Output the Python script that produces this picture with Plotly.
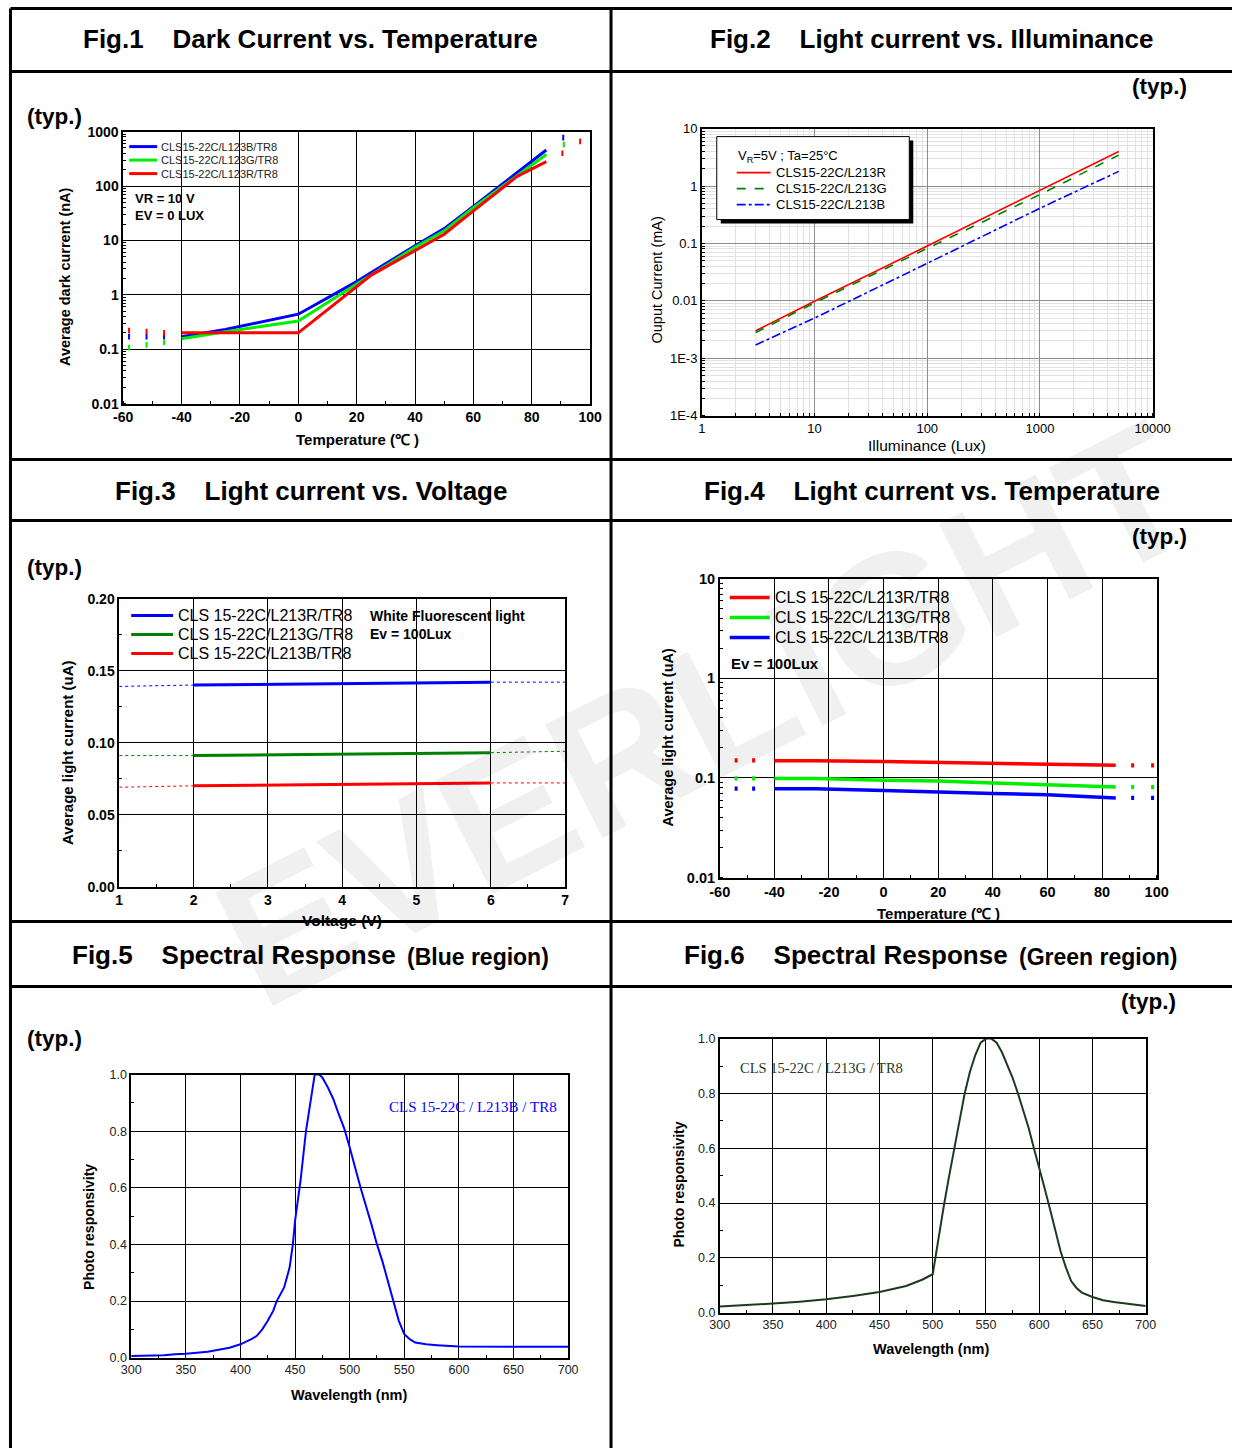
import plotly.graph_objects as go

W, H = 1250, 1456
# layout positions below are given in target-picture pixels; these helpers map them to paper coords
SX, OX, SY, OY = 0.98, 8.5, 0.989, 6.4
def tpx(x): return (x - OX) / SX
def tpy(y): return (y - OY) / SY
def fx(x): return tpx(x) / W
def fy(y): return 1 - tpy(y) / H
def fxc(x): return min(max(tpx(x), 0.5), W - 0.5) / W
def fyc(y): return 1 - min(max(tpy(y), 0.5), H - 0.5) / H

FONT = "Arial, Liberation Sans, sans-serif"
SERIF = "Times New Roman, Liberation Serif, serif"

# ---------------- DATA ----------------
# Fig.1 Dark current vs temperature (nA)
f1_blue_t = [-40, -25, 0, 20, 40, 50, 60, 85]
f1_blue = [0.17, 0.23, 0.44, 1.75, 8.0, 16.5, 42, 460]
f1_green_t = [-40, -25, 0, 20, 40, 50, 60, 85]
f1_green = [0.155, 0.21, 0.33, 1.55, 7.5, 15, 40, 380]
f1_red_t = [-40, 0, 25, 50, 60, 75, 85]
f1_red = [0.20, 0.20, 2.3, 13, 35, 150, 280]
f1_dot_t_left = [-58, -52, -46]
f1_dot_blue_left = [0.17, 0.17, 0.17]
f1_dot_green_left = [0.107, 0.12, 0.135]
f1_dot_red_left = [0.22, 0.21, 0.20]
f1_dot_blue_right_t = [90.8]
f1_dot_blue_right = [776]
f1_dot_green_right_t = [91]
f1_dot_green_right = [575]
f1_dot_red_right_t = [90.5, 96.6]
f1_dot_red_right = [400, 660]
f1_names = ["CLS15-22C/L123B/TR8", "CLS15-22C/L123G/TR8", "CLS15-22C/L123R/TR8"]
f1_xticks = [-60, -40, -20, 0, 20, 40, 60, 80, 100]
f1_xlabels = ["-60", "-40", "-20", "0", "20", "40", "60", "80", "100"]
f1_yticks = [0.01, 0.1, 1, 10, 100, 1000]
f1_ylabels = ["0.01", "0.1", "1", "10", "100", "1000"]

# Fig.2 Light current vs illuminance (mA)
f2_lux = [3, 10, 100, 1000, 5000]
f2_red = [0.003, 0.0098, 0.09, 0.84, 4.0]
f2_green = [0.0028, 0.0092, 0.082, 0.71, 3.45]
f2_blue = [0.0017, 0.005, 0.045, 0.41, 1.8]
f2_names = ["CLS15-22C/L213R", "CLS15-22C/L213G", "CLS15-22C/L213B"]
f2_xticks = [1, 10, 100, 1000, 10000]
f2_xlabels = ["1", "10", "100", "1000", "10000"]
f2_yticks = [1e-4, 1e-3, 0.01, 0.1, 1, 10]
f2_ylabels = ["1E-4", "1E-3", "0.01", "0.1", "1", "10"]

# Fig.3 Light current vs voltage (uA)
f3_v = [2, 4, 6]
f3_blue = [0.140, 0.141, 0.142]
f3_green = [0.091, 0.092, 0.093]
f3_red = [0.070, 0.071, 0.072]
f3_v_lo = [1, 2]
f3_v_hi = [6, 7]
f3_blue_lo = [0.139, 0.140]
f3_blue_hi = [0.142, 0.142]
f3_green_lo = [0.091, 0.091]
f3_green_hi = [0.093, 0.094]
f3_red_lo = [0.069, 0.070]
f3_red_hi = [0.072, 0.072]
f3_names = ["CLS 15-22C/L213R/TR8", "CLS 15-22C/L213G/TR8", "CLS 15-22C/L213B/TR8"]

# Fig.4 Light current vs temperature (uA)
f4_t = [-40, -25, 0, 20, 40, 60, 85]
f4_red = [0.149, 0.149, 0.146, 0.143, 0.141, 0.138, 0.134]
f4_green = [0.099, 0.099, 0.095, 0.093, 0.089, 0.086, 0.081]
f4_blue = [0.078, 0.078, 0.075, 0.072, 0.070, 0.068, 0.063]
f4_dot_t = [-54, -47.6, 91.2, 98.5]
f4_dot_red = [0.150, 0.150, 0.134, 0.134]
f4_dot_green = [0.099, 0.099, 0.081, 0.081]
f4_dot_blue = [0.078, 0.078, 0.063, 0.063]
f4_names = ["CLS 15-22C/L213R/TR8", "CLS 15-22C/L213G/TR8", "CLS 15-22C/L213B/TR8"]
f4_yticks = [0.01, 0.1, 1, 10]
f4_ylabels = ["0.01", "0.1", "1", "10"]

# Fig.5 Spectral response (blue)
f5_wl = [300, 330, 340, 350, 370, 380, 390, 400, 410, 415, 420, 425, 430, 433, 440, 445,
         448, 450, 455, 460, 465, 468, 472, 475, 480, 485, 490, 495, 500, 510, 520, 525,
         530, 535, 540, 545, 550, 555, 560, 570, 580, 590, 600, 650, 700]
f5_resp = [0.006, 0.008, 0.012, 0.014, 0.021, 0.027, 0.035, 0.047, 0.065, 0.077, 0.10, 0.13,
           0.165, 0.198, 0.248, 0.318, 0.40, 0.483, 0.625, 0.80, 0.93, 1.0, 1.0, 0.99, 0.955,
           0.914, 0.86, 0.81, 0.743, 0.60, 0.47, 0.40, 0.34, 0.27, 0.20, 0.13, 0.083, 0.065,
           0.053, 0.047, 0.044, 0.041, 0.039, 0.038, 0.038]

# Fig.6 Spectral response (green)
f6_wl = [300, 325, 350, 375, 400, 425, 450, 475, 490, 500, 502, 505, 510, 515, 520, 525, 530,
         535, 540, 545, 550, 555, 560, 565, 570, 575, 580, 585, 590, 595, 600, 605, 610, 615,
         620, 625, 630, 635, 640, 650, 660, 670, 680, 690, 700]
f6_resp = [0.022, 0.027, 0.033, 0.040, 0.049, 0.061, 0.075, 0.097, 0.12, 0.14, 0.19, 0.26,
           0.38, 0.49, 0.59, 0.70, 0.80, 0.88, 0.94, 0.985, 1.0, 1.0, 0.985, 0.95, 0.905,
           0.857, 0.80, 0.74, 0.675, 0.60, 0.53, 0.455, 0.38, 0.30, 0.225, 0.165, 0.115, 0.09,
           0.073, 0.057, 0.045, 0.039, 0.034, 0.029, 0.024]

# ---------------- FIGURE ----------------
fig = go.Figure()
BLUE, RED, LIME, DGREEN, SGREEN = "#0000ff", "#ff0000", "#00ee00", "#008000", "#1e3a1e"

# Fig.1
f1_series = [(f1_blue_t, f1_blue, BLUE, f1_names[0]),
             (f1_green_t, f1_green, LIME, f1_names[1]),
             (f1_red_t, f1_red, RED, f1_names[2])]
for t, v, c, n in f1_series:
    fig.add_trace(go.Scatter(x=t, y=v, mode="lines", name=n, line=dict(color=c, width=3),
                             xaxis="x", yaxis="y"))
for t, v, c in [(f1_dot_t_left, f1_dot_blue_left, BLUE), (f1_dot_t_left, f1_dot_green_left, LIME),
                (f1_dot_t_left, f1_dot_red_left, RED), (f1_dot_blue_right_t, f1_dot_blue_right, BLUE),
                (f1_dot_green_right_t, f1_dot_green_right, LIME), (f1_dot_red_right_t, f1_dot_red_right, RED)]:
    fig.add_trace(go.Scatter(x=t, y=v, mode="markers", showlegend=False,
                             marker=dict(symbol="line-ns", size=4, line=dict(color=c, width=2)),
                             xaxis="x", yaxis="y"))

# Fig.2
f2_series = [(f2_red, RED, "solid", f2_names[0]), (f2_green, DGREEN, "dash", f2_names[1]),
             (f2_blue, BLUE, "dashdot", f2_names[2])]
for v, c, d, n in f2_series:
    fig.add_trace(go.Scatter(x=f2_lux, y=v, mode="lines", name=n, line=dict(color=c, width=1.6, dash=d),
                             xaxis="x2", yaxis="y2"))

# Fig.3
f3_series = [(f3_blue, f3_blue_lo, f3_blue_hi, BLUE, f3_names[0]),
             (f3_green, f3_green_lo, f3_green_hi, DGREEN, f3_names[1]),
             (f3_red, f3_red_lo, f3_red_hi, RED, f3_names[2])]
for v, lo, hi, c, n in f3_series:
    fig.add_trace(go.Scatter(x=f3_v, y=v, mode="lines", name=n, line=dict(color=c, width=3),
                             xaxis="x3", yaxis="y3"))
    fig.add_trace(go.Scatter(x=f3_v_lo, y=lo, mode="lines", showlegend=False,
                             line=dict(color=c, width=1, dash="dot"), xaxis="x3", yaxis="y3"))
    fig.add_trace(go.Scatter(x=f3_v_hi, y=hi, mode="lines", showlegend=False,
                             line=dict(color=c, width=1, dash="dot"), xaxis="x3", yaxis="y3"))

# Fig.4
f4_series = [(f4_red, f4_dot_red, RED, f4_names[0]), (f4_green, f4_dot_green, LIME, f4_names[1]),
             (f4_blue, f4_dot_blue, BLUE, f4_names[2])]
for v, dv, c, n in f4_series:
    fig.add_trace(go.Scatter(x=f4_t, y=v, mode="lines", name=n, line=dict(color=c, width=3.5),
                             xaxis="x4", yaxis="y4"))
    fig.add_trace(go.Scatter(x=f4_dot_t, y=dv, mode="markers", showlegend=False,
                             marker=dict(symbol="line-ns", size=3, line=dict(color=c, width=3)),
                             xaxis="x4", yaxis="y4"))

# Fig.5 / Fig.6
fig.add_trace(go.Scatter(x=f5_wl, y=f5_resp, mode="lines", name="CLS 15-22C / L213B / TR8",
                         line=dict(color=BLUE, width=2), xaxis="x5", yaxis="y5"))
fig.add_trace(go.Scatter(x=f6_wl, y=f6_resp, mode="lines", name="CLS 15-22C / L213G / TR8",
                         line=dict(color=SGREEN, width=2), xaxis="x6", yaxis="y6"))

# ---------------- AXES ----------------
def ax(x0, x1, anchor, **kw):
    d = dict(domain=[fx(x0), fx(x1)], anchor=anchor, showline=True, mirror=True, linecolor="black",
             linewidth=1.5, ticks="", zeroline=False, showgrid=True, gridcolor="black", gridwidth=1)
    d.update(kw)
    return d

def ay(y0, y1, anchor, **kw):
    d = dict(domain=[fy(y1), fy(y0)], anchor=anchor, showline=True, mirror=True, linecolor="black",
             linewidth=1.5, ticks="", zeroline=False, showgrid=True, gridcolor="black", gridwidth=1)
    d.update(kw)
    return d

def bf(s): return dict(family=FONT, size=s, color="black", weight="bold")
def rf(s, c="black"): return dict(family=FONT, size=s, color=c)
minor_lin = lambda d: dict(ticks="inside", dtick=d, ticklen=3, tickcolor="black", showgrid=False)
minor_log = dict(ticks="inside", dtick="D1", ticklen=3, tickcolor="black", showgrid=False)
minor_log_grid = dict(dtick="D1", ticks="inside", ticklen=3, tickcolor="black", showgrid=True,
                      gridcolor="#e2e2e2")

fig.update_layout(
    xaxis=ax(122, 590, "y", range=[-60, 100], tickvals=f1_xticks, ticktext=f1_xlabels,
             tickfont=bf(14), minor=minor_lin(10)),
    yaxis=ay(130, 402, "x", type="log", range=[-2, 3], tickvals=f1_yticks, ticktext=f1_ylabels,
             tickfont=bf(14), minor=minor_log),
    xaxis2=ax(702, 1154, "y2", type="log", range=[0, 4], tickvals=f2_xticks, ticktext=f2_xlabels,
              tickfont=rf(13), gridcolor="#8c8c8c", minor=minor_log_grid),
    yaxis2=ay(127, 414, "x2", type="log", range=[-4, 1], tickvals=f2_yticks, ticktext=f2_ylabels,
              tickfont=rf(13), gridcolor="#8c8c8c", minor=minor_log_grid),
    xaxis3=ax(118, 565, "y3", range=[1, 7], dtick=1, tickfont=bf(14), minor=minor_lin(0.5)),
    yaxis3=ay(597, 885, "x3", range=[0, 0.2], dtick=0.05, tickformat=".2f", tickfont=bf(14),
              minor=minor_lin(0.025)),
    xaxis4=ax(720, 1158, "y4", range=[-60, 100], tickvals=f1_xticks, ticktext=f1_xlabels,
              tickfont=bf(14.5), minor=minor_lin(10)),
    yaxis4=ay(577, 876, "x4", type="log", range=[-2, 1], tickvals=f4_yticks, ticktext=f4_ylabels,
              tickfont=bf(14.5), minor=minor_log),
    xaxis5=ax(130, 568, "y5", range=[300, 700], dtick=50, tickfont=rf(12.5, "#222"), minor=minor_lin(25)),
    yaxis5=ay(1073, 1356, "x5", range=[0, 1.0], dtick=0.2, tickformat=".1f", tickfont=rf(12.5, "#222"),
              minor=minor_lin(0.1)),
    xaxis6=ax(720, 1147, "y6", range=[300, 700], dtick=50, tickfont=rf(12.5, "#222"), minor=minor_lin(25)),
    yaxis6=ay(1037, 1311, "x6", range=[0, 1.0], dtick=0.2, tickformat=".1f", tickfont=rf(12.5, "#222"),
              minor=minor_lin(0.1)),
)

# ---------------- TABLE LINES, LEGEND KEYS ----------------
shapes = []
def seg(x0, x1, y, color, width, dash="solid"):
    shapes.append(dict(type="line", xref="paper", yref="paper", x0=fx(x0), x1=fx(x1), y0=fy(y), y1=fy(y),
                       line=dict(color=color, width=width, dash=dash), layer="above"))

for yy in [4, 70, 458, 519, 920, 985]:
    shapes.append(dict(type="line", xref="paper", yref="paper", x0=fxc(6), x1=1, y0=fyc(yy), y1=fyc(yy),
                       line=dict(color="black", width=3)))
for xx in [7, 611]:
    shapes.append(dict(type="line", xref="paper", yref="paper", x0=fxc(xx), x1=fxc(xx), y0=fyc(3), y1=0,
                       line=dict(color="black", width=3)))
# Fig2 legend box with shadow
shapes.append(dict(type="rect", xref="paper", yref="paper", x0=fx(721), x1=fx(914), y0=fy(222), y1=fy(139),
                   fillcolor="black", line=dict(width=0), layer="above"))
shapes.append(dict(type="rect", xref="paper", yref="paper", x0=fx(717), x1=fx(910), y0=fy(218), y1=fy(135),
                   fillcolor="white", line=dict(color="black", width=1), layer="above"))

# ---------------- TEXT ----------------
NB = "\u00a0"
ann = []
def A(text, x, y, size, bold=True, family=FONT, color="black", xanchor="center", angle=0):
    ann.append(dict(text=text, x=fx(x), y=fy(y), xref="paper", yref="paper", showarrow=False,
                    xanchor=xanchor, yanchor="middle", textangle=angle,
                    font=dict(family=family, size=size, color=color, weight="bold" if bold else "normal")))

# legend keys (line samples + names)
for i, (t, v, c, n) in enumerate(f1_series):
    y = [145, 158.5, 172][i]
    seg(128, 156, y, c, 3)
    A(n, 158, y, 11, bold=False, color="#222", xanchor="left")
A("V<sub>R</sub>=5V ; Ta=25°C", 736, 155, 13, bold=False, xanchor="left")
for i, (v, c, d, n) in enumerate(f2_series):
    y = [171, 187, 203][i]
    seg(737, 771, y, c, 1.6, d)
    A(n, 774, y, 13, bold=False, xanchor="left")
for i, (v, lo, hi, c, n) in enumerate(f3_series):
    y = [614, 633, 652][i]
    seg(130, 172, y, c, 3)
    A(n, 175, y, 16, bold=False, xanchor="left")
for i, (v, dv, c, n) in enumerate(f4_series):
    y = [596, 616, 636][i]
    seg(730, 770, y, c, 3.5)
    A(n, 773, y, 16, bold=False, xanchor="left")

sp = NB * 4
A("Fig.1" + sp + "Dark Current vs. Temperature", 310, 37, 26)
A("Fig.2" + sp + "Light current vs. Illuminance", 933, 37, 26)
A("Fig.3" + sp + "Light current vs. Voltage", 310, 489, 26)
A("Fig.4" + sp + "Light current vs. Temperature", 933, 489, 26)
A("Fig.5" + sp + "Spectral Response", 397, 953, 26, xanchor="right")
A("(Blue region)", 404, 955, 23, xanchor="left")
A("Fig.6" + sp + "Spectral Response", 1011, 953, 26, xanchor="right")
A("(Green region)", 1018, 955, 23, xanchor="left")

for x, y, xa in [(24, 115, "left"), (1190, 85, "right"), (24, 566, "left"), (1190, 535, "right"),
                 (24, 1037, "left"), (1179, 1000, "right")]:
    A("(typ.)", x, y, 22.5, xanchor=xa)

# axis titles
A("Average dark current (nA)", 63, 275, 14.5, angle=-90)
A("Temperature (℃ )", 357, 438, 15)
A("Ouput Current (mA)", 657, 278, 14.5, bold=False, angle=-90)
A("Illuminance (Lux)", 928, 444, 15.5, bold=False)
A("Average light current (uA)", 66, 751, 15, angle=-90)
A("Voltage (V)", 341, 919, 15.5)
A("Average light current (uA)", 668, 736, 14.5, angle=-90)
A("Temperature (℃ )", 939, 912, 15)
A("Photo responsivity", 87, 1225, 14, angle=-90)
A("Wavelength (nm)", 348, 1393, 14.5)
A("Photo responsivity", 679, 1183, 14, angle=-90)
A("Wavelength (nm)", 932, 1347, 14.5)

# in-plot notes
A("VR = 10 V", 132, 197, 13, xanchor="left")
A("EV = 0 LUX", 132, 214, 13, xanchor="left")
A("White Fluorescent light", 367, 614, 14, xanchor="left")
A("Ev = 100Lux", 367, 632, 14, xanchor="left")
A("Ev = 100Lux", 729, 662, 15, xanchor="left")
A("CLS 15-22C / L213B / TR8", 386, 1105, 15, bold=False, family=SERIF, color=BLUE, xanchor="left")
A("CLS 15-22C / L213G / TR8", 738, 1066, 14.5, bold=False, family=SERIF, color=SGREEN, xanchor="left")

# watermark
A("EVERLIGHT", 705, 712, 185, color="rgba(0,0,0,0.06)", angle=-27)

fig.update_layout(annotations=ann, shapes=shapes, width=W, height=H, margin=dict(l=0, r=0, t=0, b=0),
                  paper_bgcolor="white", plot_bgcolor="white", font=dict(family=FONT), showlegend=False)

fig.write_html("out.html", config={"displayModeBar": False},
               post_script="document.body.style.margin='0';document.body.style.overflow='hidden';")
